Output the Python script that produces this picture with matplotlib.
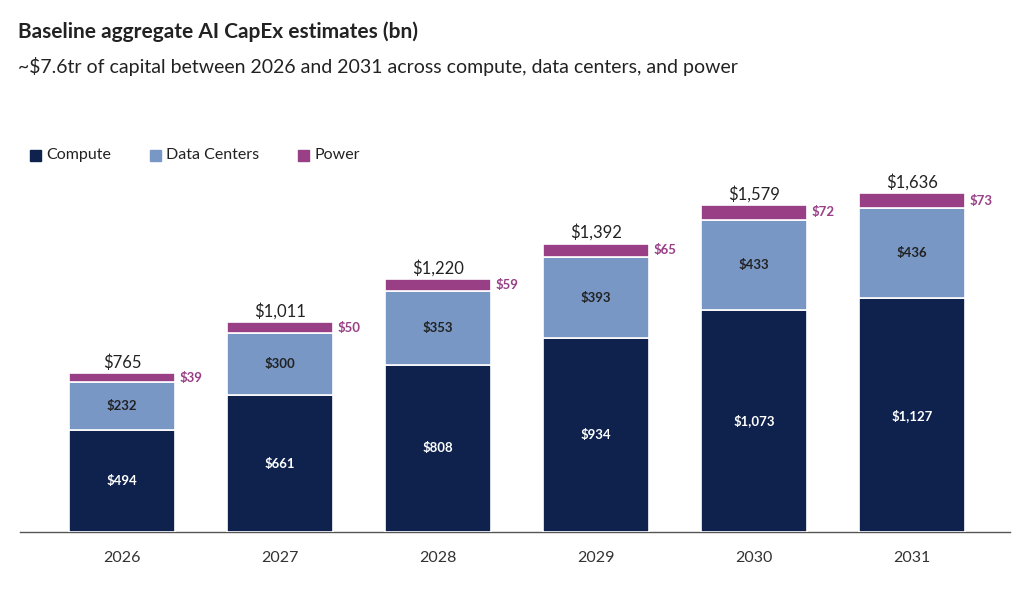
import matplotlib
matplotlib.use("Agg")
import matplotlib.pyplot as plt
import numpy as np

years = ["2026", "2027", "2028", "2029", "2030", "2031"]
compute = [494, 661, 808, 934, 1073, 1127]
data_centers = [232, 300, 353, 393, 433, 436]
power = [39, 50, 59, 65, 72, 73]
totals = [765, 1011, 1220, 1392, 1579, 1636]

NAVY = "#0f224d"
BLUE = "#7897c5"
PURPLE = "#983f86"
TEXT = "#222222"

plt.rcParams["font.family"] = ["Lato", "DejaVu Sans"]

W, H = 1033, 589
fig = plt.figure(figsize=(W / 100, H / 100), dpi=100, facecolor="white")
ax = fig.add_axes([20 / W, (H - 532) / H, 990 / W, 373 / H])

x = np.arange(len(years))
bw = 0.665
comp = np.array(compute); dc = np.array(data_centers); pw = np.array(power)
ax.bar(x, comp, bw, color=NAVY, edgecolor="white", lw=1.2, zorder=3)
ax.bar(x, dc, bw, bottom=comp, color=BLUE, edgecolor="white", lw=1.2, zorder=3)
ax.bar(x, pw, bw, bottom=comp + dc, color=PURPLE, edgecolor="white", lw=1.2, zorder=3)

for i in range(len(years)):
    ax.text(x[i], comp[i] / 2, f"${compute[i]:,}", ha="center", va="center",
            color="white", fontsize=9.5, fontweight="bold", zorder=4)
    ax.text(x[i], comp[i] + dc[i] / 2, f"${data_centers[i]:,}", ha="center",
            va="center", color=TEXT, fontsize=9.5, fontweight="bold", zorder=4)
    ax.text(x[i] + bw / 2 + 0.03, comp[i] + dc[i] + pw[i] / 2, f"${power[i]}",
            ha="left", va="center", color=PURPLE, fontsize=9.5,
            fontweight="bold", zorder=4)
    ax.text(x[i], totals[i] + 12, f"${totals[i]:,}", ha="center", va="bottom",
            color=TEXT, fontsize=12, zorder=4)

ax.set_xlim((20 - 122) / 158, (1010 - 122) / 158)
ax.set_ylim(0, 1800)
ax.set_xticks(x)
ax.set_xticklabels(years, fontsize=11.5, color="#333333")
ax.tick_params(axis="x", length=0, pad=14)
ax.set_yticks([])
for s in ("top", "right", "left"):
    ax.spines[s].set_visible(False)
ax.spines["bottom"].set_color("#555555")
ax.spines["bottom"].set_linewidth(1.0)

fig.text(18 / W, 1 - 32 / H, "Baseline aggregate AI CapEx estimates (bn)",
         fontsize=15, fontweight="bold", color=TEXT, va="center")
fig.text(18 / W, 1 - 67 / H,
         "~$7.6tr of capital between 2026 and 2031 across compute, data centers, and power",
         fontsize=14, color=TEXT, va="center")

# legend
leg_items = [("Compute", NAVY, 30), ("Data Centers", BLUE, 150), ("Power", PURPLE, 298)]
for label, col, px in leg_items:
    fig.patches.append(plt.Rectangle((px / W, 1 - 161 / H), 11 / W, 11 / H,
                                     transform=fig.transFigure, color=col))
    fig.text((px + 16) / W, 1 - 155 / H, label, fontsize=11.5, color=TEXT,
             va="center")

fig.savefig("out.png", dpi=100, facecolor="white")
